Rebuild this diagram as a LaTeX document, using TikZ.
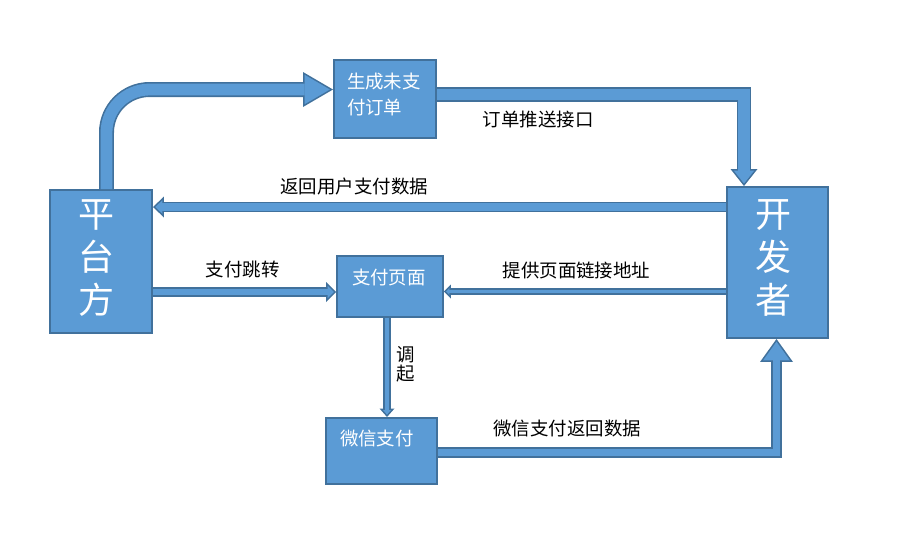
\documentclass[tikz,border=0pt]{standalone}
\usepackage{fontspec}
\setmainfont{Noto Sans CJK SC}
\usepackage{tikz}
\usetikzlibrary{arrows.meta, calc, positioning}
\definecolor{boxblue}{RGB}{91,155,213}
\definecolor{edgeblue}{RGB}{65,113,156}
\tikzset{
  blockbox/.style={rectangle, draw=edgeblue, fill=boxblue, line width=0.04cm, text=white, inner sep=0pt, align=left},
  smalltext/.style={font=\fontsize{10.5}{14.8}\selectfont, text height=9.24pt},
  bigtext/.style={font=\fontsize{20.5}{24.5}\selectfont, text height=18pt},
  lbl/.style={font=\fontsize{10.5}{11}\selectfont, text=black, inner sep=0pt},
  fatarrow/.style n args={6}{
    preaction={draw=edgeblue, line width=#1+0.064cm, shorten >=0pt, -{Triangle[width=#2, length=#3, line width=0pt]}},
    draw=boxblue, line width=#1, shorten >=#6, -{Triangle[width=#4, length=#5, line width=0pt, fill=boxblue]}
  }
}

\begin{document}
\begin{tikzpicture}[x=0.02cm, y=-0.02cm]
        \useasboundingbox (0,0) rectangle (914,532);

        \node (plat) [blockbox, bigtext, minimum width=2.04cm, minimum height=2.86cm, text width=0.92cm, text depth=2.0cm] at (101,261.5) {平\\台\\方};
        \node (dev) [blockbox, bigtext, minimum width=2.02cm, minimum height=3.02cm, text width=0.88cm, text depth=2.05cm] at (777.5,262.5) {开\\发\\者};
        \node (gen) [blockbox, smalltext, minimum width=2.04cm, minimum height=1.56cm, text width=1.52cm, text depth=0.76cm] at (385,99) {生成未支\\付订单};
        \node (page) [blockbox, smalltext, minimum width=2.12cm, minimum height=1.22cm, text width=1.52cm, text depth=0.42cm] at (390,286.5) {支付页面};
        \node (wx) [blockbox, smalltext, minimum width=2.22cm, minimum height=1.32cm, text width=1.66cm, text depth=0.56cm] at (381.5,451) {微信支付};

        % Flecha curva: plataforma -> pedido
        \draw [fatarrow={0.236cm}{0.70cm}{0.60cm}{0.589cm}{0.505cm}{0.063cm}, rounded corners=0.86cm] ([xshift=0.11cm]plat.north) |- ([yshift=0.19cm]gen.west);

        % pedido -> desarrollador (baja por la derecha)
        \draw [fatarrow={0.226cm}{0.54cm}{0.34cm}{0.408cm}{0.257cm}{0.051cm}] ([yshift=0.09cm]gen.east) -| ([xshift=-0.67cm]dev.north) node[lbl, pos=0.165, yshift=-0.51cm] {订单推送接口};

        \draw [fatarrow={0.146cm}{0.42cm}{0.22cm}{0.27cm}{0.142cm}{0.046cm}] ([yshift=1.11cm]dev.west) coordinate (r3) -- (r3 -| plat.east) node[lbl, pos=0.649, yshift=0.42cm] {返回用户支付数据};
        \draw [fatarrow={0.136cm}{0.40cm}{0.20cm}{0.246cm}{0.123cm}{0.045cm}] ([yshift=-0.61cm]plat.east) coordinate (r4) -- (r4 -| page.west) node[lbl, pos=0.49, yshift=0.46cm] {支付跳转};
        \draw [fatarrow={0.076cm}{0.28cm}{0.14cm}{0.126cm}{0.063cm}{0.045cm}] ([yshift=-0.58cm]dev.west) coordinate (r5) -- (r5 -| page.east) node[lbl, pos=0.53, yshift=0.43cm] {提供页面链接地址};
        \draw [fatarrow={0.096cm}{0.30cm}{0.17cm}{0.158cm}{0.09cm}{0.048cm}] ([xshift=-0.06cm]page.south) coordinate (r6) -- (r6 |- wx.north) node[lbl, pos=0.47, xshift=0.38cm, align=center] {调\\起};

        % pago -> desarrollador (sube por abajo)
        \draw [fatarrow={0.156cm}{0.66cm}{0.46cm}{0.535cm}{0.373cm}{0.055cm}] ([yshift=-0.03cm]wx.east) -| ([xshift=-0.02cm]dev.south) node[lbl, pos=0.191, yshift=0.49cm] {微信支付返回数据};

    \end{tikzpicture}
\end{document}
